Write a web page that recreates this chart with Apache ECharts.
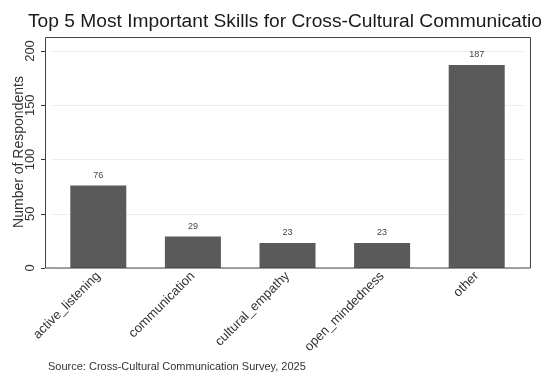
<!DOCTYPE html>
<html>
<head>
<meta charset="utf-8">
<script src="https://cdn.jsdelivr.net/npm/echarts@6/dist/echarts.min.js"></script>
<style>
  html, body { margin: 0; padding: 0; background: #fff; }
  #chart { width: 543px; height: 380px; }
</style>
</head>
<body>
<div id="chart"></div>
<script>
// Survey responses: most important skills for cross-cultural communication
const skills = ['active_listening', 'communication', 'cultural_empathy', 'open_mindedness', 'other'];
const respondents = [76, 29, 23, 23, 187];
const yTicks = [0, 50, 100, 150, 200];

const FONT = '"Liberation Sans", Arial, Helvetica, sans-serif';
const chart = echarts.init(document.getElementById('chart'), null, { renderer: 'canvas' });

chart.setOption({
  animation: false,
  backgroundColor: '#ffffff',
  title: {
    text: 'Top 5 Most Important Skills for Cross-Cultural Communication',
    left: 23,
    top: 7,
    textStyle: { fontFamily: FONT, fontSize: 19.2, fontWeight: 'normal', color: '#1a1a1a' }
  },
  grid: { left: 51, right: 19, top: 51, bottom: 112, containLabel: false, outerBoundsMode: 'none' },
  xAxis: {
    type: 'category',
    data: skills,
    axisLine: { show: false },
    axisTick: { show: false },
    axisLabel: {
      rotate: 45,
      margin: 6,
      interval: 0,
      fontFamily: FONT,
      fontSize: 13,
      color: '#333'
    }
  },
  yAxis: {
    type: 'value',
    min: yTicks[0],
    max: yTicks[yTicks.length - 1],
    interval: 50,
    offset: 6,
    axisLine: { show: false },
    axisTick: { show: true, length: 4, lineStyle: { color: '#333' } },
    axisLabel: {
      rotate: 90,
      margin: 8,
      hideOverlap: false,
      fontFamily: FONT,
      fontSize: 13,
      color: '#333'
    },
    splitLine: { show: true, lineStyle: { color: '#eeeeee', width: 1 } }
  },
  series: [{
    type: 'bar',
    data: respondents,
    barWidth: 56,
    itemStyle: { color: '#5a5a5a' },
    label: {
      show: true,
      position: 'top',
      distance: 6,
      fontFamily: FONT,
      fontSize: 9,
      color: '#444'
    }
  }],
  graphic: [
    {
      // plot frame
      type: 'rect',
      shape: { x: 45.5, y: 37.5, width: 485, height: 230.5 },
      style: { fill: 'none', stroke: '#444', lineWidth: 1 },
      silent: true,
      z: 10
    },
    {
      // y-axis title, reading bottom to top
      type: 'text',
      x: 19,
      y: 152,
      rotation: Math.PI / 2,
      style: {
        text: 'Number of Respondents',
        font: '14px ' + FONT,
        fill: '#333',
        align: 'center',
        verticalAlign: 'middle'
      }
    },
    {
      type: 'text',
      left: 48,
      top: 361,
      style: {
        text: 'Source: Cross-Cultural Communication Survey, 2025',
        font: '11px ' + FONT,
        fill: '#333'
      }
    }
  ]
});
</script>
</body>
</html>
